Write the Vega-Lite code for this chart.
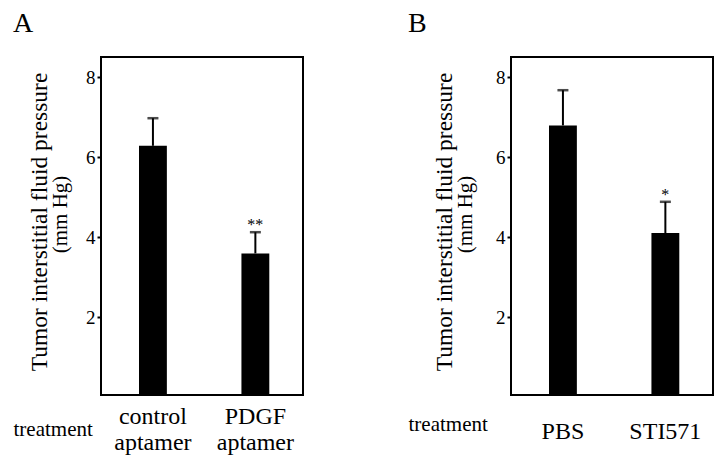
{
  "$schema": "https://vega.github.io/schema/vega-lite/v6.json",
  "padding": {"left": 12, "top": 9, "right": 0, "bottom": 0},
  "spacing": 103,
  "config": {
    "font": "Liberation Serif",
    "view": {"stroke": "black", "strokeWidth": 2},
    "axis": {"domain": false, "grid": false, "labelFont": "Liberation Serif", "titleFont": "Liberation Serif", "labelColor": "black", "titleColor": "black", "tickColor": "black", "titleFontWeight": "normal"},
    "title": {"font": "Liberation Serif", "fontSize": 28, "fontWeight": "normal", "color": "black", "anchor": "start", "frame": "bounds", "baseline": "alphabetic", "offset": 19}
  },
  "datasets": {
    "a": [
      {"group": "control aptamer", "mean": 6.28, "upper": 6.97, "sig": ""},
      {"group": "PDGF aptamer", "mean": 3.59, "upper": 4.12, "sig": "**"}
    ],
    "b": [
      {"group": "PBS", "mean": 6.79, "upper": 7.67, "sig": ""},
      {"group": "STI571", "mean": 4.1, "upper": 4.88, "sig": "*"}
    ]
  },
  "hconcat": [
    {
      "width": 202,
      "height": 338,
      "title": "A",
      "data": {"name": "a"},
      "resolve": {"axis": {"y": "independent"}},
      "layer": [
        {
          "mark": {"type": "bar", "color": "black", "clip": true},
          "encoding": {
            "x": {"field": "group", "type": "nominal", "sort": null,
              "scale": {"paddingInner": 0.728, "paddingOuter": 0.35, "align": 0.53},
              "axis": {"title": "treatment", "titleX": -88, "titleY": 40, "titleAlign": "left", "titleBaseline": "alphabetic", "titleFontSize": 21,
                "labelAngle": 0, "labelFontSize": 24, "labelExpr": "split(datum.value, ' ')", "labelLineHeight": 26, "ticks": false, "tickSize": 0, "labelPadding": 28, "labelBaseline": "alphabetic"}},
            "y": {"field": "mean", "type": "quantitative",
              "scale": {"domain": [0.05, 8.5], "nice": false, "zero": false},
              "axis": {"values": [2, 4, 6, 8], "tickSize": 4, "tickWidth": 2, "labelPadding": 2, "labelFontSize": 19,
                "title": "(mm Hg)", "titleFontSize": 21, "titleX": -35, "titleY": 157, "titleAngle": 270, "titleAlign": "center", "titleBaseline": "alphabetic"}}
          }
        },
        {
          "mark": {"type": "rule", "color": "black", "strokeWidth": 2},
          "encoding": {
            "x": {"field": "group", "type": "nominal", "sort": null},
            "y": {"field": "mean", "type": "quantitative",
              "axis": {"orient": "left", "labels": false, "ticks": false, "domain": false, "title": "Tumor interstitial fluid pressure", "titleFontSize": 23.5, "titleX": -55, "titleY": 164.5, "titleAngle": 270, "titleAlign": "center", "titleBaseline": "alphabetic"}},
            "y2": {"field": "upper"}
          }
        },
        {
          "mark": {"type": "tick", "color": "black", "size": 11, "thickness": 2.5},
          "encoding": {
            "x": {"field": "group", "type": "nominal", "sort": null},
            "y": {"field": "upper", "type": "quantitative", "axis": null}
          }
        },
        {
          "mark": {"type": "text", "fontSize": 16, "baseline": "alphabetic", "dy": -2, "font": "Liberation Serif", "color": "black"},
          "encoding": {
            "x": {"field": "group", "type": "nominal", "sort": null},
            "y": {"field": "upper", "type": "quantitative", "axis": null},
            "text": {"field": "sig"}
          }
        }
      ]
    },
    {
      "width": 202,
      "height": 338,
      "title": "B",
      "data": {"name": "b"},
      "resolve": {"axis": {"y": "independent"}},
      "layer": [
        {
          "mark": {"type": "bar", "color": "black", "clip": true},
          "encoding": {
            "x": {"field": "group", "type": "nominal", "sort": null,
              "scale": {"paddingInner": 0.728, "paddingOuter": 0.35, "align": 0.53},
              "axis": {"title": "treatment", "titleX": -103, "titleY": 35, "titleAlign": "left", "titleBaseline": "alphabetic", "titleFontSize": 21,
                "labelAngle": 0, "labelFontSize": 24, "labelExpr": "split(datum.value, ' ')", "labelLineHeight": 26, "ticks": false, "tickSize": 0, "labelPadding": 43, "labelBaseline": "alphabetic"}},
            "y": {"field": "mean", "type": "quantitative",
              "scale": {"domain": [0.05, 8.5], "nice": false, "zero": false},
              "axis": {"values": [2, 4, 6, 8], "tickSize": 4, "tickWidth": 2, "labelPadding": 2, "labelFontSize": 19,
                "title": "(mm Hg)", "titleFontSize": 21, "titleX": -40, "titleY": 157, "titleAngle": 270, "titleAlign": "center", "titleBaseline": "alphabetic"}}
          }
        },
        {
          "mark": {"type": "rule", "color": "black", "strokeWidth": 2},
          "encoding": {
            "x": {"field": "group", "type": "nominal", "sort": null},
            "y": {"field": "mean", "type": "quantitative",
              "axis": {"orient": "left", "labels": false, "ticks": false, "domain": false, "title": "Tumor interstitial fluid pressure", "titleFontSize": 23.5, "titleX": -60, "titleY": 164.5, "titleAngle": 270, "titleAlign": "center", "titleBaseline": "alphabetic"}},
            "y2": {"field": "upper"}
          }
        },
        {
          "mark": {"type": "tick", "color": "black", "size": 11, "thickness": 2.5},
          "encoding": {
            "x": {"field": "group", "type": "nominal", "sort": null},
            "y": {"field": "upper", "type": "quantitative", "axis": null}
          }
        },
        {
          "mark": {"type": "text", "fontSize": 16, "baseline": "alphabetic", "dy": -2, "font": "Liberation Serif", "color": "black"},
          "encoding": {
            "x": {"field": "group", "type": "nominal", "sort": null},
            "y": {"field": "upper", "type": "quantitative", "axis": null},
            "text": {"field": "sig"}
          }
        }
      ]
    }
  ]
}
